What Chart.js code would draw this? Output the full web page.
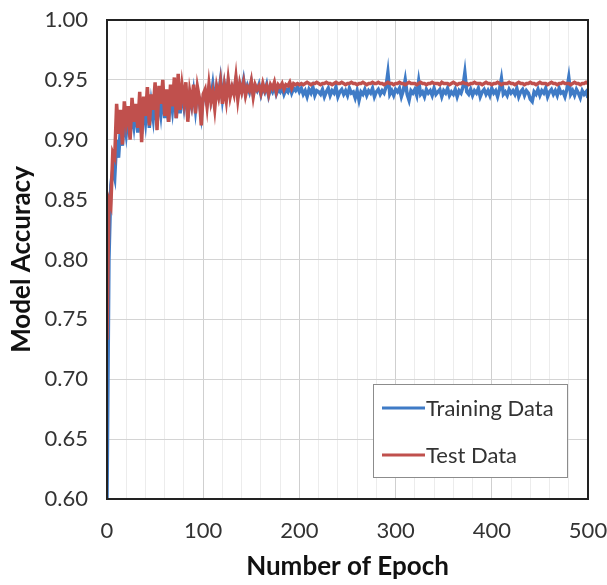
<!DOCTYPE html>
<html>
<head>
<meta charset="utf-8">
<script src="https://cdn.jsdelivr.net/npm/chart.js@4"></script>
<style>
  html, body { margin: 0; padding: 0; background: #fff; }
  #wrap { width: 607px; height: 585px; position: relative; }
</style>
</head>
<body>
<div id="wrap"><canvas id="accChart"></canvas></div>
<script>
// one value every 2 epochs, epoch 0..500
const EPOCH_STEP = 2;

const trainAcc = [
  0.600, 0.800, 0.862, 0.875, 0.868, 0.900, 0.885, 0.910, 0.895, 0.918, 0.905,
  0.920, 0.902, 0.925, 0.912, 0.928, 0.906, 0.930, 0.905, 0.928, 0.915,
  0.935, 0.910, 0.930, 0.918, 0.938, 0.912, 0.936, 0.922, 0.940, 0.918,
  0.935, 0.915, 0.938, 0.925, 0.942, 0.918, 0.945, 0.922, 0.940, 0.928,
  0.942, 0.918, 0.936, 0.928, 0.940, 0.925, 0.940, 0.932, 0.920, 0.935,
  0.938, 0.930, 0.942, 0.934, 0.946, 0.932, 0.944, 0.938, 0.950, 0.934,
  0.946, 0.936, 0.948, 0.938, 0.944, 0.940, 0.950, 0.937, 0.946, 0.941,
  0.950, 0.939, 0.945, 0.940, 0.948, 0.938, 0.944, 0.941, 0.946, 0.938,
  0.944, 0.940, 0.946, 0.937, 0.943, 0.940, 0.945, 0.938, 0.942, 0.940,
  0.944, 0.938, 0.942, 0.940, 0.945, 0.939, 0.943, 0.941, 0.944, 0.940,
  0.943, 0.938, 0.941, 0.936, 0.942, 0.939, 0.944, 0.937, 0.941, 0.940,
  0.938, 0.942, 0.936, 0.940, 0.943, 0.937, 0.941, 0.939, 0.944, 0.936,
  0.940, 0.942, 0.938, 0.941, 0.937, 0.943, 0.939, 0.940, 0.935, 0.941,
  0.933, 0.940, 0.938, 0.942, 0.937, 0.941, 0.939, 0.943, 0.936, 0.940,
  0.942, 0.938, 0.941, 0.939, 0.944, 0.956, 0.938, 0.941, 0.937, 0.942,
  0.940, 0.943, 0.936, 0.941, 0.950, 0.938, 0.933, 0.941, 0.939, 0.942,
  0.937, 0.949, 0.938, 0.940, 0.936, 0.942, 0.939, 0.941, 0.937, 0.943,
  0.938, 0.940, 0.942, 0.936, 0.941, 0.939, 0.943, 0.937, 0.940, 0.938,
  0.942, 0.936, 0.941, 0.939, 0.944, 0.956, 0.940, 0.938, 0.942, 0.937,
  0.941, 0.939, 0.943, 0.936, 0.940, 0.942, 0.938, 0.941, 0.937, 0.943,
  0.939, 0.941, 0.936, 0.942, 0.951, 0.938, 0.940, 0.937, 0.942, 0.939,
  0.941, 0.938, 0.943, 0.936, 0.940, 0.942, 0.937, 0.941, 0.939, 0.934,
  0.932, 0.940, 0.938, 0.942, 0.937, 0.941, 0.939, 0.943, 0.936, 0.940,
  0.942, 0.938, 0.941, 0.937, 0.943, 0.939, 0.940, 0.936, 0.942, 0.952,
  0.938, 0.941, 0.937, 0.942, 0.939, 0.935, 0.941, 0.938, 0.940, 0.935
];

const testAcc = [
  0.733, 0.850, 0.845, 0.889, 0.885, 0.930, 0.905, 0.925, 0.896, 0.932, 0.915,
  0.928, 0.900, 0.935, 0.915, 0.930, 0.910, 0.940, 0.898, 0.936, 0.920,
  0.944, 0.912, 0.938, 0.925, 0.948, 0.908, 0.945, 0.930, 0.950, 0.920,
  0.942, 0.915, 0.946, 0.928, 0.952, 0.918, 0.955, 0.925, 0.945, 0.932,
  0.948, 0.915, 0.940, 0.930, 0.946, 0.922, 0.944, 0.935, 0.912, 0.938,
  0.942, 0.928, 0.946, 0.932, 0.940, 0.926, 0.944, 0.936, 0.948, 0.930,
  0.945, 0.933, 0.950, 0.936, 0.944, 0.938, 0.952, 0.934, 0.947, 0.940,
  0.948, 0.937, 0.944, 0.941, 0.949, 0.936, 0.946, 0.942, 0.945, 0.939,
  0.947, 0.941, 0.945, 0.938, 0.946, 0.943, 0.948, 0.940, 0.946, 0.944,
  0.947, 0.942, 0.946, 0.945, 0.948, 0.943, 0.947, 0.946, 0.947, 0.946,
  0.947, 0.946, 0.947, 0.948, 0.947, 0.946, 0.947, 0.947, 0.948, 0.947,
  0.946, 0.947, 0.947, 0.948, 0.947, 0.947, 0.946, 0.947, 0.948, 0.947,
  0.947, 0.948, 0.947, 0.946, 0.947, 0.947, 0.948, 0.947, 0.947, 0.946,
  0.947, 0.947, 0.948, 0.947, 0.946, 0.947, 0.947, 0.948, 0.947, 0.947,
  0.948, 0.947, 0.947, 0.946, 0.947, 0.948, 0.947, 0.947, 0.946, 0.947,
  0.947, 0.948, 0.947, 0.947, 0.946, 0.947, 0.948, 0.947, 0.947, 0.947,
  0.946, 0.947, 0.948, 0.947, 0.947, 0.946, 0.947, 0.947, 0.948, 0.947,
  0.947, 0.947, 0.946, 0.948, 0.947, 0.947, 0.947, 0.946, 0.947, 0.948,
  0.947, 0.946, 0.947, 0.947, 0.948, 0.947, 0.947, 0.946, 0.947, 0.947,
  0.948, 0.947, 0.947, 0.947, 0.946, 0.947, 0.948, 0.947, 0.947, 0.946,
  0.947, 0.947, 0.948, 0.947, 0.946, 0.947, 0.947, 0.947, 0.948, 0.947,
  0.947, 0.946, 0.947, 0.948, 0.947, 0.947, 0.946, 0.947, 0.947, 0.948,
  0.947, 0.947, 0.946, 0.947, 0.948, 0.947, 0.947, 0.947, 0.946, 0.947,
  0.948, 0.947, 0.947, 0.946, 0.947, 0.947, 0.948, 0.947, 0.947, 0.947,
  0.946, 0.947, 0.948, 0.947, 0.947, 0.946, 0.947, 0.947, 0.948, 0.947
];

const seriesNames = ['Training Data', 'Test Data'];
const seriesColors = ['#3f7bc6', '#c0504d'];
const xTickLabels = [0, 100, 200, 300, 400, 500];
const yTickLabels = ['0.60', '0.65', '0.70', '0.75', '0.80', '0.85', '0.90', '0.95', '1.00'];

const epochs = trainAcc.map((_, i) => i * EPOCH_STEP);
const toPoints = vals => vals.map((v, i) => ({ x: epochs[i], y: v }));

const FONT = 'Lato, "Open Sans", sans-serif';
const TEXT = '#333333';

// frame around plot + legend box inside plot area
const framePlugin = {
    id: 'frame',
    afterDraw(chart) {
        const ctx = chart.ctx;
        const a = chart.chartArea;
        ctx.save();
        ctx.strokeStyle = '#222';
        ctx.lineWidth = 2;
        ctx.strokeRect(a.left, a.top, a.right - a.left, a.bottom - a.top);

        // legend
        const bx = a.left + 266, by = a.top + 364, bw = 194, bh = 93;
        ctx.fillStyle = '#fff';
        ctx.fillRect(bx, by, bw, bh);
        ctx.strokeStyle = '#8c8c8c';
        ctx.lineWidth = 1;
        ctx.strokeRect(bx + 0.5, by + 0.5, bw, bh);
        ctx.font = '22px ' + FONT;
        ctx.textBaseline = 'middle';
        ctx.textAlign = 'left';
        chart.data.datasets.forEach((ds, i) => {
            const y = by + 24 + i * 47;
            ctx.strokeStyle = ds.borderColor;
            ctx.lineWidth = 3;
            ctx.beginPath();
            ctx.moveTo(bx + 9, y);
            ctx.lineTo(bx + 52, y);
            ctx.stroke();
            ctx.fillStyle = TEXT;
            ctx.fillText(ds.label, bx + 53, y + 1);
        });
        ctx.restore();
    }
};

const ctx = document.getElementById('accChart').getContext('2d');
new Chart(ctx, {
    type: 'line',
    data: {
        datasets: [
            {
                label: seriesNames[0],
                data: toPoints(trainAcc),
                borderColor: seriesColors[0],
                borderWidth: 3.5,
                pointRadius: 0,
                tension: 0,
                order: 1
            },
            {
                label: seriesNames[1],
                data: toPoints(testAcc),
                borderColor: seriesColors[1],
                borderWidth: 3.5,
                pointRadius: 0,
                tension: 0,
                order: 0
            }
        ]
    },
    options: {
        responsive: true,
        maintainAspectRatio: false,
        animation: false,
        layout: { padding: { left: 0, top: 20, right: 19, bottom: 0 } },
        plugins: {
            legend: { display: false },
            tooltip: { enabled: false }
        },
        scales: {
            x: {
                type: 'linear',
                min: 0,
                max: 500,
                grid: {
                    drawTicks: false,
                    lineWidth: 1,
                    color: c => (c.tick && c.tick.value % 100 === 0) ? '#cfcfcf' : '#ececec'
                },
                border: { display: false },
                ticks: {
                    stepSize: 20,
                    autoSkip: false,
                    maxRotation: 0,
                    padding: 19,
                    color: TEXT,
                    font: { family: FONT, size: 22 },
                    callback: v => xTickLabels.includes(v) ? String(v) : ''
                },
                title: {
                    display: true,
                    text: 'Number of Epoch',
                    color: '#111',
                    font: { family: FONT, size: 26, weight: 'bold' },
                    padding: { top: 4, bottom: 3 }
                },
                afterFit: s => {
                    s.height = 86;
                    s.paddingLeft = 0;
                    s.paddingRight = 0;
                }
            },
            y: {
                min: 0.6,
                max: 1.0,
                grid: { drawTicks: false, color: '#d4d4d4', lineWidth: 1 },
                border: { display: false },
                ticks: {
                    stepSize: 0.05,
                    padding: 19,
                    color: TEXT,
                    font: { family: FONT, size: 22 },
                    callback: (v, i) => yTickLabels[i]
                },
                title: {
                    display: true,
                    text: 'Model Accuracy',
                    color: '#111',
                    font: { family: FONT, size: 26, weight: 'bold' },
                    padding: { top: 6, bottom: 4 }
                },
                afterFit: s => {
                    s.width = 107;
                    s.paddingTop = 0;
                    s.paddingBottom = 0;
                }
            }
        }
    },
    plugins: [framePlugin]
});
</script>
</body>
</html>
